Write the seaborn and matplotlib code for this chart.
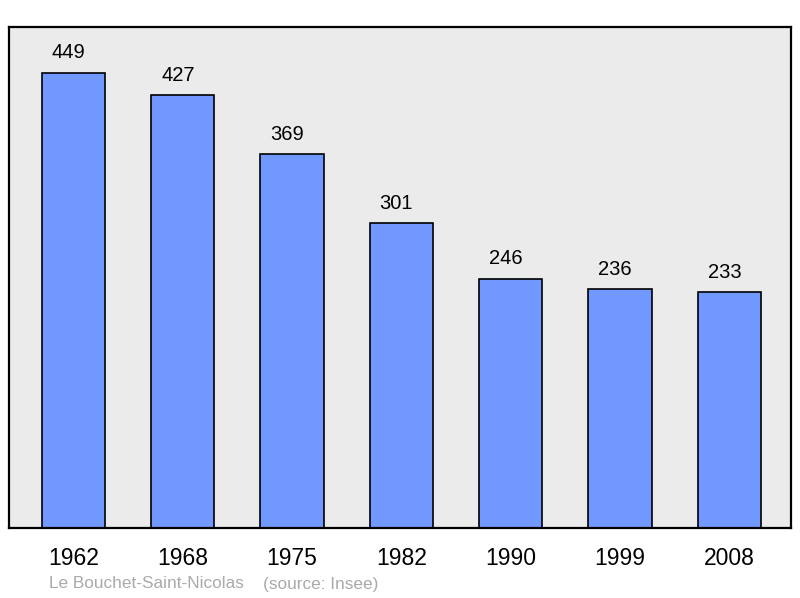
import matplotlib
matplotlib.use("Agg")
import matplotlib.pyplot as plt
import seaborn as sns
import pandas as pd

years = ["1962", "1968", "1975", "1982", "1990", "1999", "2008"]
population = [449, 427, 369, 301, 246, 236, 233]

sns.set_style("white")
plt.rcParams['font.family'] = ['Liberation Sans', 'DejaVu Sans']

df = pd.DataFrame({"year": years, "pop": population})

fig = plt.figure(figsize=(8, 5.98), dpi=100)
ax = fig.add_axes([9/800, 1 - 528/598, 782/800, 501/598])
ax.set_facecolor("#ebebeb")

sns.barplot(data=df, x="year", y="pop", color="#7098ff", saturation=1,
            width=0.58, edgecolor="black", linewidth=1.2, ax=ax)

for i, v in enumerate(population):
    ax.text(i - 0.045, v + 10, str(v), ha="center", va="bottom", fontsize=14.5, color="black")

ax.set_xlim(-0.59, 6.565)
ax.set_ylim(0, 494)
ax.set_yticks([])
ax.set_xlabel("")
ax.set_ylabel("")
ax.tick_params(axis="x", length=0, labelsize=16.5, pad=14, labelcolor="black")
for s in ax.spines.values():
    s.set_visible(True)
    s.set_color("black")
    s.set_linewidth(1.6)

fig.text(49/800, 1 - 584/598, "Le Bouchet-Saint-Nicolas",
         fontsize=12.4, color="#aaaaaa", ha="left", va="center")
fig.text(263/800, 1 - 584/598, "(source: Insee)",
         fontsize=12.4, color="#aaaaaa", ha="left", va="center")

fig.savefig("out.png", dpi=100)
